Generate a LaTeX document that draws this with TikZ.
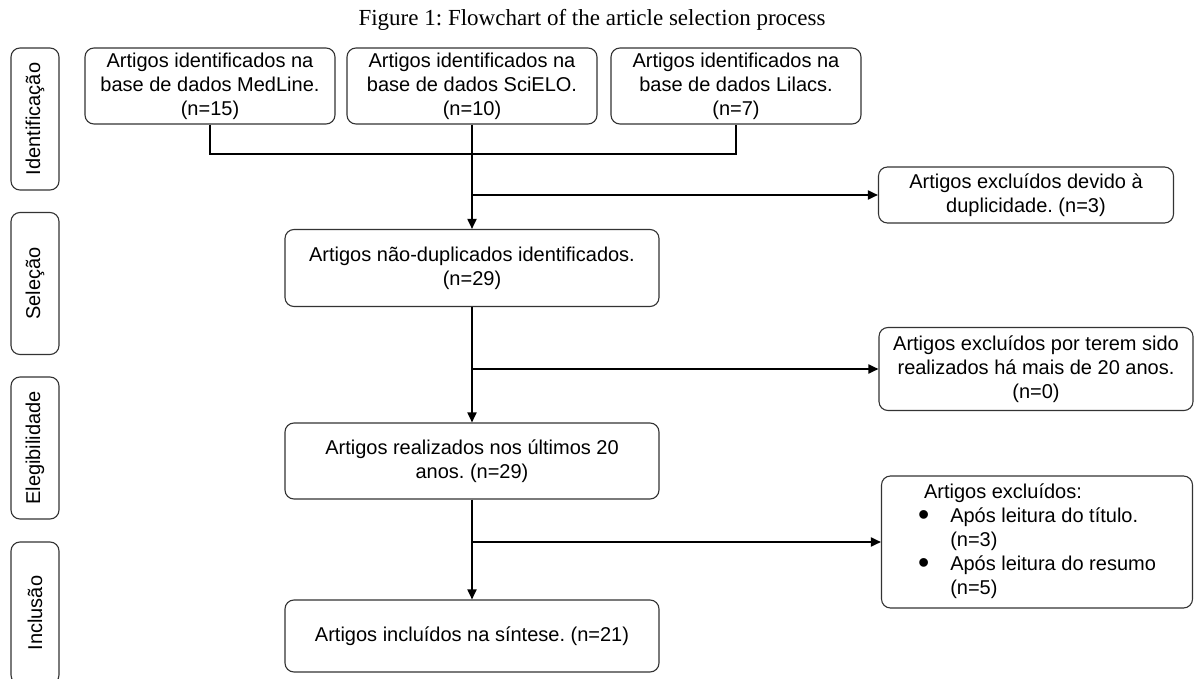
\documentclass[tikz,border=0pt]{standalone}
\usepackage{fontspec}
\setmainfont{Liberation Sans}
\newfontfamily\captionfont{Liberation Serif}
\usetikzlibrary{arrows.meta}
\frenchspacing
\newcommand{\bigdot}{\raisebox{-2.5pt}{\scalebox{1.6}{\textbullet}}}

\begin{document}
\begin{tikzpicture}[x=1pt,y=-1pt,
  box/.style={draw=black!80,line width=1.1pt,rounded corners=9pt,align=center,
    inner sep=0pt,font=\fontsize{20}{24}\selectfont},
  phase/.style={box,rotate=90,minimum width=142pt,minimum height=48pt},
  link/.style={line width=1.8pt},
  arr/.style={link,-{Triangle[length=10pt,width=9pt]}}]
  \useasboundingbox (0,0) rectangle (1194,679);
  \clip (0,0) rectangle (1194,679);

  \node[anchor=base,font=\captionfont\fontsize{23}{28}\selectfont] (title) at (592,26)
    {Figure 1: Flowchart of the article selection process};

  % phases
  \node[phase] (ident) at (35,119) {Identificação};
  \node[phase] (sel) at (35,283.5) {Seleção};
  \node[phase] (eleg) at (35,448) {Elegibilidade};
  \node[phase] (incl) at (35,613) {Inclusão};

  % sources
  \node[box,minimum width=250pt,minimum height=76pt] (medline) at (210,86)
    {Artigos identificados na\\base de dados MedLine.\\(n=15)};
  \node[box,minimum width=250pt,minimum height=76pt] (scielo) at (472,86)
    {Artigos identificados na\\base de dados SciELO.\\(n=10)};
  \node[box,minimum width=250pt,minimum height=76pt] (lilacs) at (736,86)
    {Artigos identificados na\\base de dados Lilacs.\\(n=7)};

  % main flow
  \node[box,minimum width=374pt,minimum height=77pt] (nondup) at (472,268)
    {Artigos não-duplicados identificados.\\(n=29)};
  \node[box,minimum width=374pt,minimum height=76pt] (recent) at (472,461)
    {Artigos realizados nos últimos 20\\anos. (n=29)};
  \node[box,minimum width=374pt,minimum height=72pt] (synth) at (472,636)
    {Artigos incluídos na síntese. (n=21)};

  % exclusions
  \node[box,minimum width=295pt,minimum height=56pt] (exdup) at (1026,195)
    {Artigos excluídos devido à\\duplicidade. (n=3)};
  \node[box,minimum width=314pt,minimum height=83pt] (exold) at (1036,369)
    {Artigos excluídos por terem sido\\realizados há mais de 20 anos.\\(n=0)};
  \node[box,minimum width=311pt,minimum height=132pt] (exread) at (1037,542)
    {\begin{tabular}{@{}l@{\hspace{21pt}}l@{}}
      \multicolumn{2}{@{}l}{\hspace{6pt}Artigos excluídos:}\\
      \bigdot & Após leitura do título.\\
      & (n=3)\\
      \bigdot & Após leitura do resumo\\
      & (n=5)
    \end{tabular}};

  \coordinate (jn) at (472,154);
  \coordinate (b1) at (472,195);
  \coordinate (b2) at (472,369);
  \coordinate (b3) at (472,542);

  % Draw edges
  \draw[link] (medline.south) |- (jn) -| (lilacs.south);
  \draw[arr] (scielo.south) -- (nondup.north);
  \draw[arr] (b1) -- (exdup.west);
  \draw[arr] (nondup.south) -- (recent.north);
  \draw[arr] (b2) -- (exold.west);
  \draw[arr] (recent.south) -- (synth.north);
  \draw[arr] (b3) -- (exread.west);
\end{tikzpicture}
\end{document}
